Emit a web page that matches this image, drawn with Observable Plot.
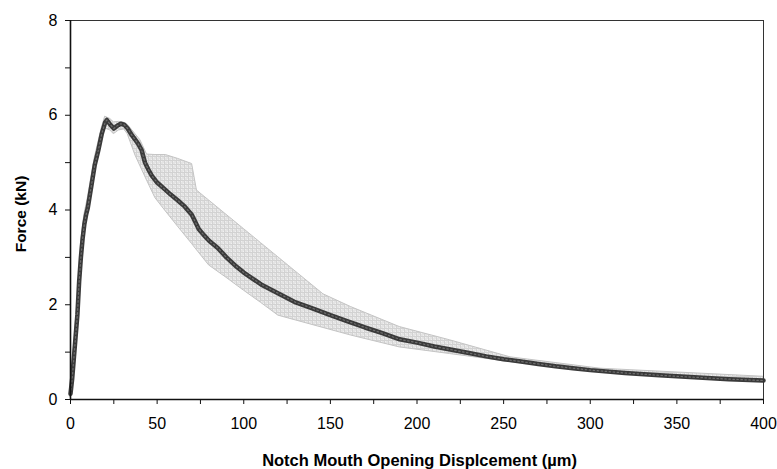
<!DOCTYPE html>
<html>
<head>
<meta charset="utf-8">
<script src="https://cdn.jsdelivr.net/npm/d3@7"></script>
<script src="https://cdn.jsdelivr.net/npm/@observablehq/plot@0.6"></script>
<style>
  html, body { margin: 0; padding: 0; background: #ffffff; }
  #chart { width: 777px; height: 469px; }
</style>
</head>
<body>
<div id="chart"></div>
<script>
// Mean force–displacement curve
const meanX = [0, 1, 2, 3, 4, 5, 6, 7, 8, 9, 10, 12, 14, 16, 18, 20, 21, 23, 25, 27, 29, 31, 33, 35, 37, 39, 41, 43, 45, 47, 50, 54, 58, 62, 66, 70, 72, 74, 77, 80, 85, 90, 95, 100, 110, 120, 130, 140, 150, 160, 170, 180, 190, 200, 210, 220, 230, 240, 250, 260, 270, 280, 290, 300, 320, 340, 360, 380, 400];
const meanY = [0.12, 0.45, 0.9, 1.35, 1.8, 2.5, 3.0, 3.4, 3.7, 3.9, 4.05, 4.5, 4.95, 5.25, 5.6, 5.85, 5.9, 5.8, 5.72, 5.78, 5.82, 5.8, 5.72, 5.6, 5.5, 5.4, 5.27, 5.0, 4.85, 4.72, 4.58, 4.45, 4.32, 4.2, 4.07, 3.9, 3.75, 3.6, 3.47, 3.35, 3.2, 3.0, 2.83, 2.68, 2.43, 2.24, 2.05, 1.92, 1.78, 1.65, 1.52, 1.4, 1.27, 1.2, 1.12, 1.05, 0.98, 0.91, 0.85, 0.8, 0.75, 0.7, 0.66, 0.62, 0.56, 0.51, 0.47, 0.43, 0.40];

// Envelope (min / max of specimens)
const bandX    = [0, 2, 4, 6, 8, 10, 14, 18, 20, 23, 25, 28, 31, 33, 37.5, 40.4, 44.2, 49, 55, 62, 70.2, 73, 80, 90, 100, 110, 120, 146, 162, 190, 219, 254, 306, 400];
const bandLow  = [0.05, 0.7, 1.55, 2.75, 3.5, 3.9, 4.8, 5.45, 5.72, 5.68, 5.6, 5.68, 5.7, 5.6, 5.15, 4.92, 4.62, 4.25, 3.97, 3.65, 3.28, 3.15, 2.83, 2.57, 2.3, 2.04, 1.77, 1.51, 1.35, 1.10, 0.96, 0.79, 0.58, 0.38];
const bandHigh = [0.25, 1.1, 2.05, 3.25, 3.9, 4.25, 5.1, 5.72, 5.97, 5.92, 5.85, 5.86, 5.84, 5.8, 5.6, 5.47, 5.17, 5.16, 5.16, 5.08, 4.97, 4.41, 4.2, 3.9, 3.6, 3.3, 3.0, 2.22, 1.95, 1.53, 1.25, 0.89, 0.65, 0.48];

const xTicks = [0, 25, 50, 75, 100, 125, 150, 175, 200, 225, 250, 275, 300, 325, 350, 375, 400];
const yTicks = [0, 1, 2, 3, 4, 5, 6, 7, 8];
const xLabel = "Notch Mouth Opening Displcement (µm)";
const yLabel = "Force (kN)";

const mean = meanX.map((x, i) => ({x, y: meanY[i]}));
const band = bandX.map((x, i) => ({x, lo: bandLow[i], hi: bandHigh[i]}));

const font = "Arial, 'Liberation Sans', sans-serif";

const chart = Plot.plot({
  width: 777,
  height: 469,
  marginLeft: 70,
  marginRight: 14,
  marginTop: 20,
  marginBottom: 70,
  style: {fontFamily: font, fontSize: "16px", background: "#ffffff", color: "#000"},
  x: {domain: [0, 400], axis: null},
  y: {domain: [0, 8], axis: null},
  marks: [
    Plot.areaY(band, {x: "x", y1: "lo", y2: "hi", fill: "url(#bandHatch)", stroke: "#c4c4c4", strokeWidth: 1}),
    Plot.line(mean, {x: "x", y: "y", stroke: "#3a3a3a", strokeWidth: 4.5, curve: "linear"}),
    Plot.line(mean, {x: "x", y: "y", stroke: "#6e6e6e", strokeWidth: 1.2, strokeDasharray: "1.5,2.5"}),
    Plot.ruleY([8], {stroke: "#333", strokeWidth: 1}),
    Plot.ruleX([400], {stroke: "#333", strokeWidth: 1}),
    Plot.ruleX([0], {stroke: "#111", strokeWidth: 1.6}),
    Plot.ruleY([0], {stroke: "#111", strokeWidth: 1.6}),
    Plot.axisY({ticks: yTicks, tickSize: 5, tickPadding: 8, fontSize: 16,
      tickFormat: d => (d % 2 === 0 ? String(d) : ""), stroke: "#111"}),
    Plot.axisX({ticks: xTicks, tickSize: 5, tickPadding: 13, fontSize: 16,
      tickFormat: d => (d % 50 === 0 ? String(d) : ""), stroke: "#111", label: null}),
    Plot.text([xLabel], {frameAnchor: "bottom", textAnchor: "middle", dx: 2.5, dy: 66, lineAnchor: "bottom",
      fontWeight: "bold", fontSize: 16.5, fill: "#000"}),
    Plot.text([yLabel], {frameAnchor: "left", textAnchor: "middle", dx: -49.5, dy: 4, rotate: -90, lineAnchor: "middle",
      fontWeight: "bold", fontSize: 15.5, fill: "#000"})
  ]
});

// hatch pattern for the envelope
const ns = "http://www.w3.org/2000/svg";
const defs = document.createElementNS(ns, "defs");
defs.innerHTML = `
  <pattern id="bandHatch" patternUnits="userSpaceOnUse" width="4" height="4">
    <rect width="4" height="4" fill="#e3e3e3"/>
    <rect x="1" y="1" width="1" height="1" fill="#f0f0f0"/>
    <rect x="3" y="3" width="1" height="1" fill="#f0f0f0"/>
    <path d="M0 0.5H4M0.5 0V4" stroke="#d2d2d2" stroke-width="1"/>
  </pattern>`;
chart.insertBefore(defs, chart.firstChild);

document.getElementById("chart").appendChild(chart);
</script>
</body>
</html>
